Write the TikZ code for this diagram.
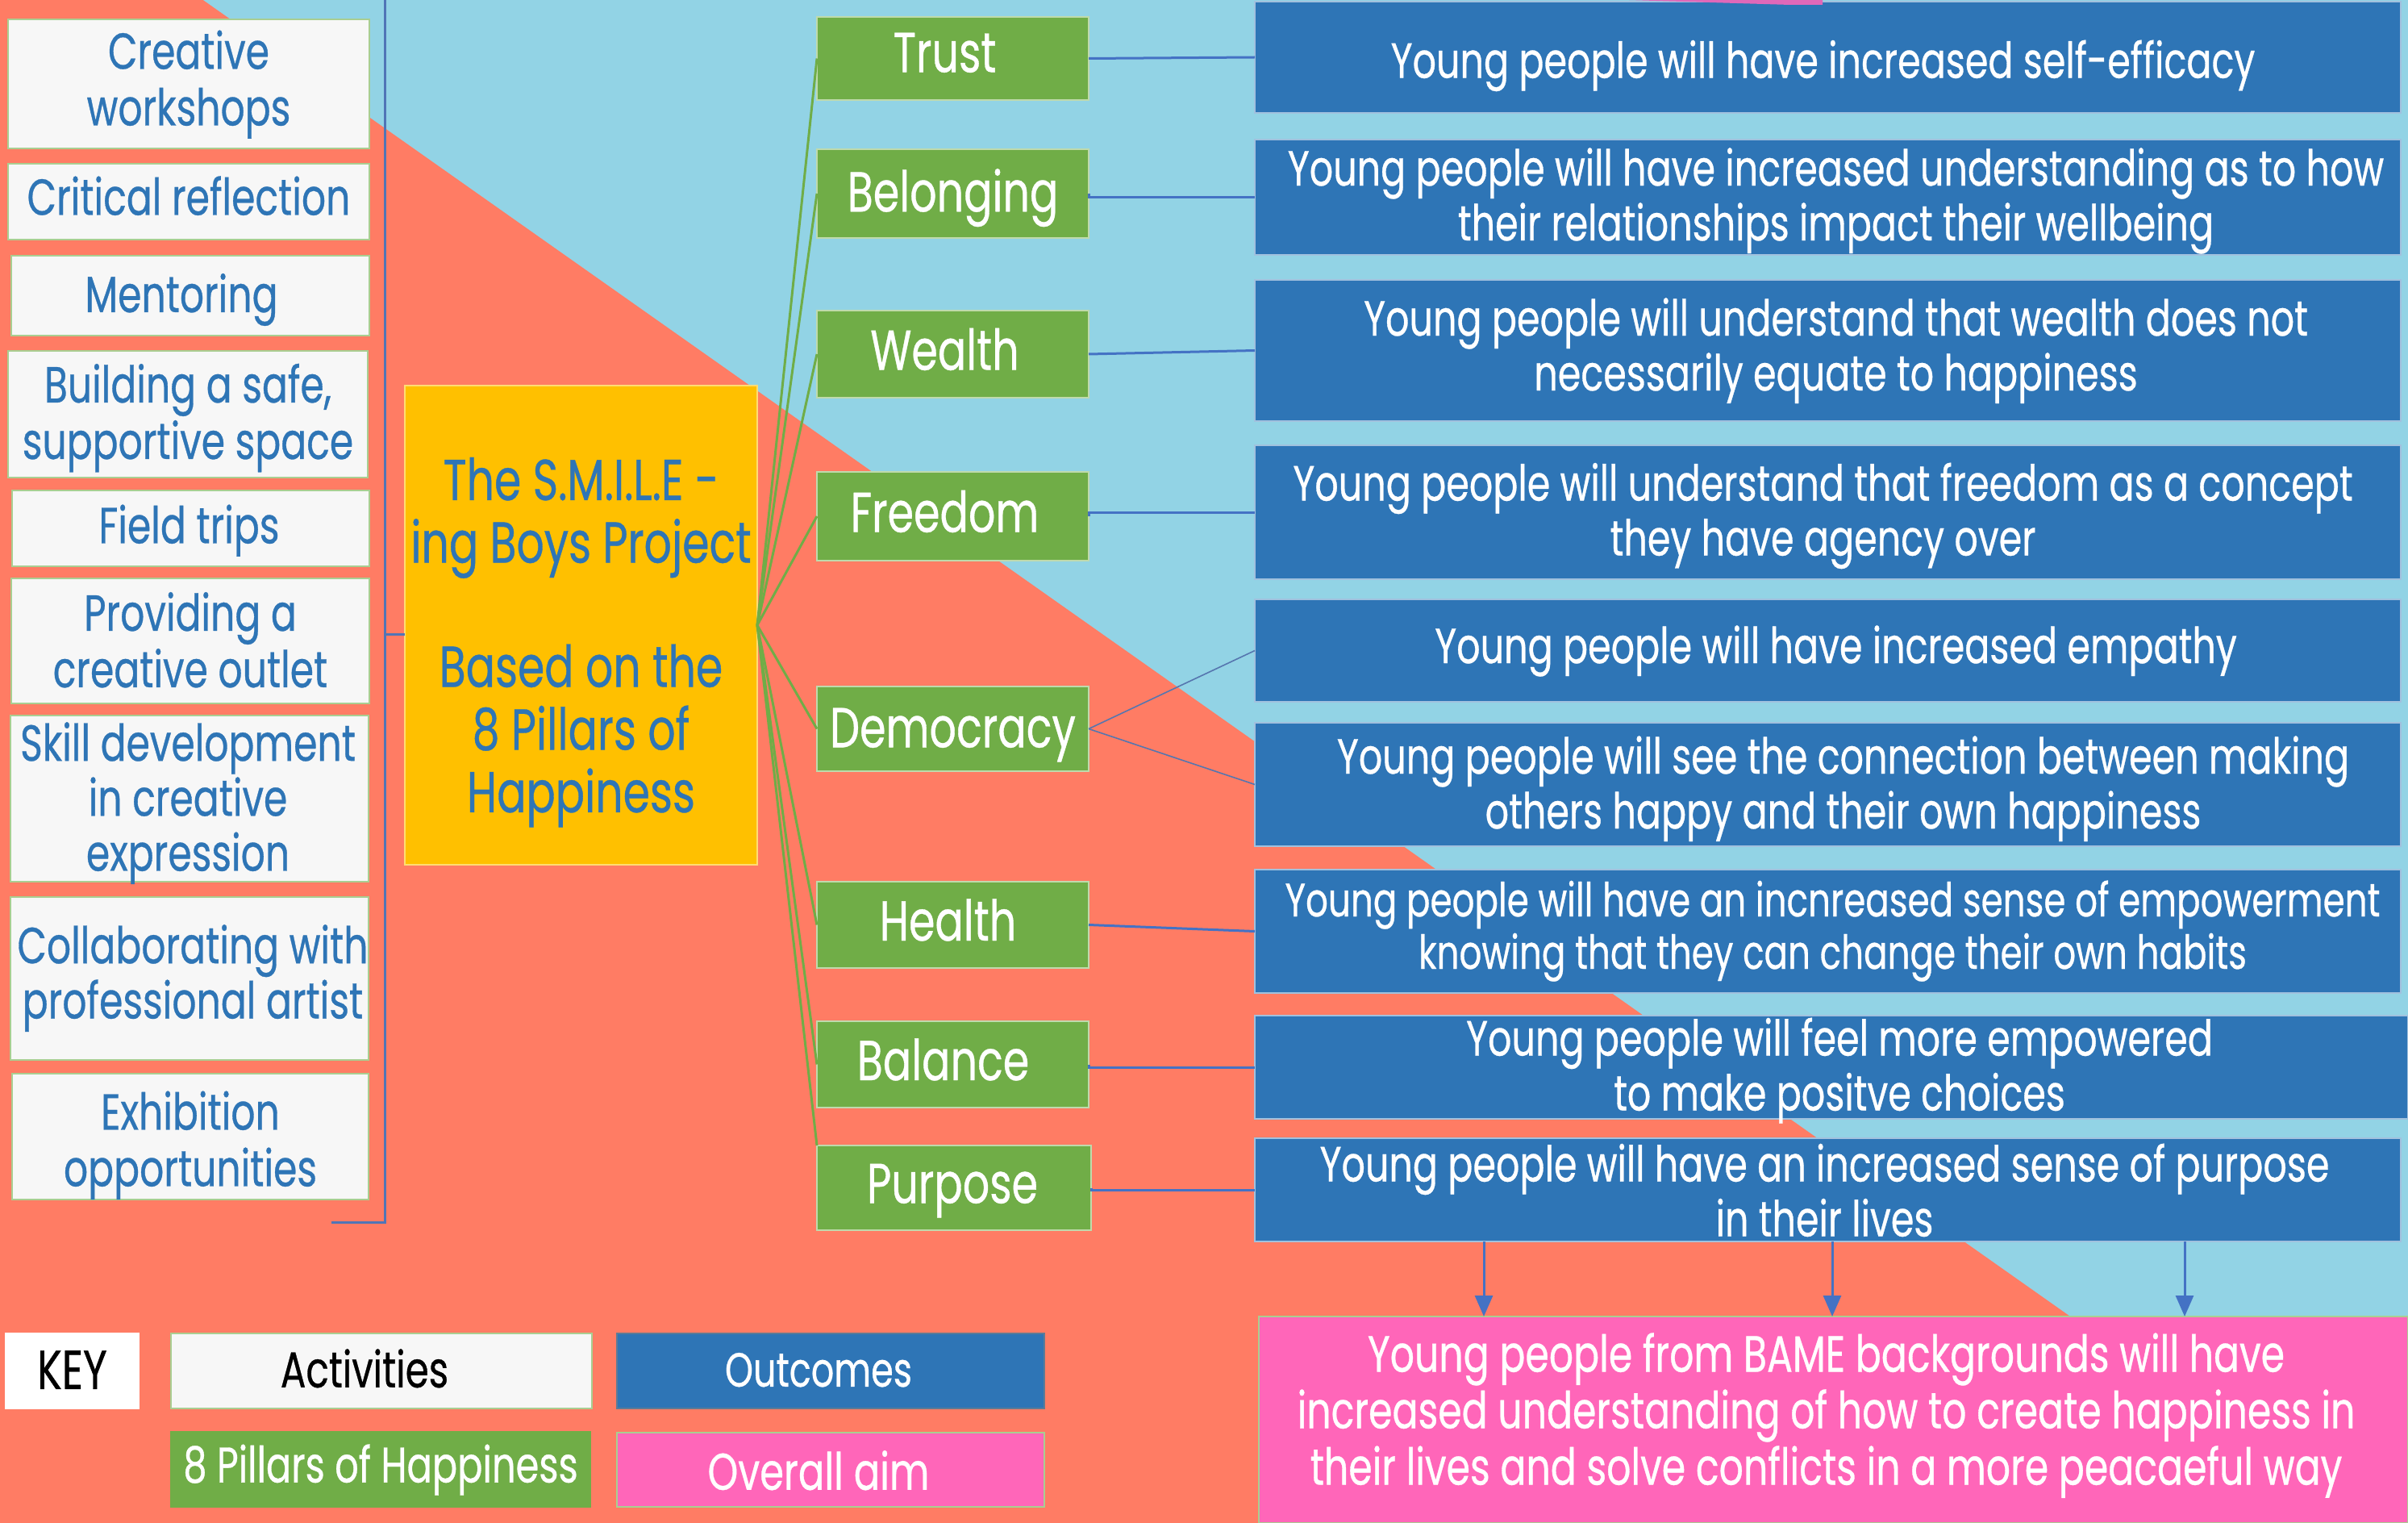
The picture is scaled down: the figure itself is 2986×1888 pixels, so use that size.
\documentclass[tikz,border=0pt]{standalone}
\usepackage{fontspec}
\usetikzlibrary{arrows.meta}
\setmainfont[FakeStretch=0.75,FakeBold=0.5]{Poppins}
\definecolor{salmon}{HTML}{FF7C64}
\definecolor{skyb}{HTML}{92D3E5}
\definecolor{outb}{HTML}{2E75B6}
\definecolor{pillg}{HTML}{70AD47}
\definecolor{aimp}{HTML}{FF66B9}
\definecolor{gold}{HTML}{FFC000}
\definecolor{linkb}{HTML}{4472C4}
\newcommand\tx[3]{\raisebox{\dimexpr-#2pt*1/2-0.3em\relax}[0pt][0pt]{\makebox[0pt][c]{\hspace*{#1pt}\begin{tabular}{@{}c@{}}#3\end{tabular}}}}
% \bx{style}{name}{x1}{y1}{x2}{y2}{dx}{dy}{text}
\newcommand\bx[9]{\node[#1,minimum width={(#5-#3)*0.5pt},minimum height={(#6-#4)*0.5pt}] (#2) at ({(#3+#5)/2},{(#4+#6)/2}) {\tx{#7}{#8}{#9}};}
\tikzset{
 base/.style={rectangle,inner sep=0pt,outer sep=0pt,line width=1pt},
 act/.style={base,fill=white!97!black,draw=pillg!60!white,text=outb,font=\fontsize{31.5}{35}\selectfont},
 acttight/.style={act,font=\fontsize{31.5}{33.7}\selectfont},
 pillar/.style={base,fill=pillg,draw=pillg!45!white,text=white,font=\fontsize{34.9}{36}\selectfont},
 outc/.style={base,fill=outb,draw=outb!45!white,text=white,font=\fontsize{30.7}{34}\selectfont},
 aimbox/.style={base,fill=aimp,draw=pillg!60!white,text=white,font=\fontsize{31.6}{35}\selectfont},
 centre/.style={base,fill=gold,draw=gold!55!white,text=outb,font=\fontsize{35.8}{38.5}\selectfont},
 keyb/.style={base,fill=white,draw=white,text=black,font=\fontsize{34}{36}\selectfont},
 glink/.style={draw=pillg,line width=1.5pt},
 blink/.style={draw=linkb,line width=1.5pt},
 thinlink/.style={draw=linkb!70!gray,line width=0.8pt},
 down/.style={blink,-{Triangle[length=13pt,width=11pt]}},
}
\begin{document}
\begin{tikzpicture}[x=0.5pt,y=-0.5pt]
\useasboundingbox (0,0) rectangle (2986,1888);
\fill[salmon] (0,0) rectangle (2986,1888);
\fill[skyb] (252,0) -- (2986,0) -- (2986,1927) -- cycle;
% activities
\bx{act}{a1}{10}{24}{458}{184}{0}{-4}{Creative\\workshops}
\bx{act}{a2}{10}{203}{458}{297}{0}{-4}{Critical reflection}
\bx{act}{a3}{14}{317}{458}{416}{-11}{0}{Mentoring}
\bx{act}{a4}{10}{435}{456}{592}{0}{0}{Building a safe,\\supportive space}
\bx{act}{a5}{15}{608}{458}{702}{-2}{-2}{Field trips}
\bx{act}{a6}{14}{717}{458}{872}{0}{2}{Providing a\\creative outlet}
\bx{acttight}{a7}{13}{887}{457}{1093}{-2}{1}{Skill development\\in creative\\expression}
\bx{acttight}{a8}{13}{1112}{457}{1314}{4}{-5}{Collaborating with\\professional artist}
\bx{act}{a9}{15}{1331}{457}{1487}{0}{6}{Exhibition\\opportunities}
% centre
\bx{centre}{mid}{502}{478}{939}{1072}{0}{14}{The S.M.I.L.E -\\ing Boys Project\\ \\Based on the\\8 Pillars of\\Happiness}
% pillars
\bx{pillar}{p1}{1013}{21}{1350}{124}{-10}{-6}{Trust}
\bx{pillar}{p2}{1013}{185}{1350}{295}{0}{-2}{Belonging}
\bx{pillar}{p3}{1013}{385}{1350}{493}{-10}{-4}{Wealth}
\bx{pillar}{p4}{1013}{585}{1350}{695}{-10}{-4}{Freedom}
\bx{pillar}{p5}{1013}{851}{1350}{956}{0}{0}{Democracy}
\bx{pillar}{p6}{1013}{1093}{1350}{1200}{-6}{-4}{Health}
\bx{pillar}{p7}{1013}{1266}{1350}{1373}{-12}{-4}{Balance}
\bx{pillar}{p8}{1013}{1420}{1353}{1525}{-2}{-4}{Purpose}
% outcomes
\bx{outc}{o1}{1556}{2}{2977}{140}{-6}{6}{Young people will have increased self-efficacy}
\fill[aimp!85!outb] (2020,0) -- (2260,0) -- (2260,6) -- (2220,6) -- cycle;
\bx{outc}{o2}{1556}{173}{2977}{316}{10}{0}{Young people will have increased understanding as to how\\their relationships impact their wellbeing}
\bx{outc}{o3}{1556}{347}{2977}{522}{10}{-4}{Young people will understand that wealth does not\\necessarily equate to happiness}
\bx{outc}{o4}{1556}{552}{2977}{718}{-6}{0}{Young people will understand that freedom as a concept\\they have agency over}
\bx{outc}{o5}{1556}{743}{2977}{870}{10}{-4}{Young people will have increased empathy}
\bx{outc}{o6}{1556}{896}{2977}{1049}{19}{1}{Young people will see the connection between making\\others happy and their own happiness}
\bx{outc,font=\fontsize{29.1}{32.5}\selectfont}{o7}{1556}{1078}{2977}{1231}{6}{-4}{Young people will have an incnreased sense of empowerment\\knowing that they can change their own habits}
\bx{outc}{o8}{1556}{1259}{2986}{1387}{10}{0}{Young people will feel more empowered\\to make positve choices}
\bx{outc}{o9}{1556}{1411}{2977}{1539}{-4}{4}{Young people will have an increased sense of purpose\\in their lives}
\bx{aimbox}{aim}{1561}{1632}{2986}{1888}{-9}{-10}{Young people from BAME backgrounds will have\\increased understanding of how to create happiness in\\their lives and solve conflicts in a more peacaeful way}
% key
\bx{keyb}{k0}{7}{1653}{172}{1746}{0}{0}{KEY}
\bx{act,text=black,font=\fontsize{31.2}{35}\selectfont}{k1}{212}{1653}{734}{1746}{-21}{0}{Activities}
\bx{outc,font=\fontsize{29.7}{35}\selectfont,draw=gray!60!outb}{k2}{765}{1653}{1295}{1746}{-15}{0}{Outcomes}
\bx{pillar,font=\fontsize{30.9}{35}\selectfont,draw=pillg}{k3}{212}{1775}{732}{1868}{0}{-4}{8 Pillars of Happiness}
\bx{aimbox,font=\fontsize{32}{35}\selectfont}{k4}{765}{1776}{1295}{1868}{-15}{4}{Overall aim}
% bracket
\coordinate (bt) at (477,0);
\coordinate (bm) at (477,786);
\coordinate (bb) at (477,1515);
\coordinate (be) at (411,1515);
\draw[blink,draw=linkb!80!gray] (bt) -- (bb) -- (be);
\draw[blink,draw=linkb!80!gray] (bm) -- (mid.west |- bm);
% green
\foreach \t in {p1,p2,p3,p4,p5,p6,p7} \draw[glink] (mid.east) -- (\t.west);
\draw[glink] (mid.east) -- (p8.north west);
% blue
\foreach \t/\u in {p1/o1,p3/o3,p6/o7} \draw[blink] (\t.east) -- (\u.west);
\foreach \t/\u in {p2/o2,p4/o4,p7/o8,p8/o9} \draw[blink] (\t.east) -- (\u.west -| \t.east) -- (\u.west);
\draw[thinlink] (p5.east) -- (o5.west);
\draw[thinlink] (p5.east) -- (o6.west);
% arrows to aim
\coordinate (d1) at (1840,1539);
\coordinate (d2) at (2272,1539);
\coordinate (d3) at (2709,1539);
\foreach \c in {d1,d2,d3} \draw[down] (\c) -- (\c |- aim.north);
\end{tikzpicture}
\end{document}
